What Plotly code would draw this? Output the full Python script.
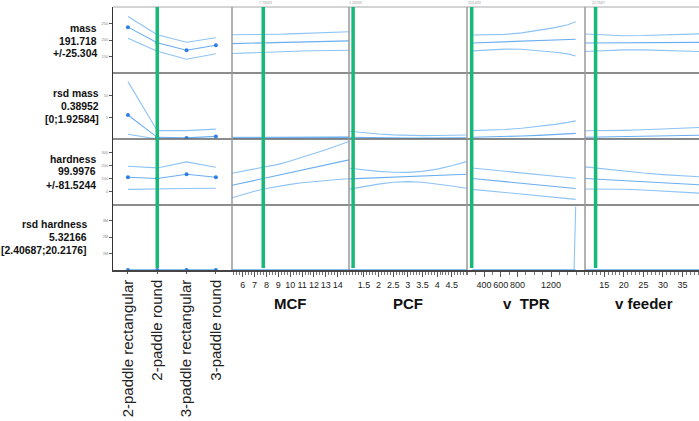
import plotly.graph_objects as go

# ---------------- data ----------------
CATEGORIES = ["2-paddle rectangular", "2-paddle round", "3-paddle rectangular", "3-paddle round"]
MASS_CAT = [239, 191.7, 169, 184]
MASS_CAT_UP = [271, 216, 193, 207]
MASS_CAT_LO = [205, 166, 141.5, 158.5]
RSDM_CAT = [5.56, 0.39, 0.25, 0.6]
RSDM_CAT_UP = [13.3, 1.93, 1.95, 2.3]
RSDM_CAT_LO = [1.1, 0.0, 0.0, 0.0]
HARD_CAT = [110, 100, 133, 110]
HARD_CAT_UP = [194, 181, 227, 186]
HARD_CAT_LO = [18, 18.5, 24, 26]
RSDH_CAT = [5.32, 5.32, 5.4, 5.3]
RSDH_CAT_UP = [20, 20.2, 21, 20]
RSDH_CAT_LO = [2.4, 2.4, 2.5, 2.4]

MCF_X = [5.1, 6, 7, 8, 9, 10, 11, 12, 13, 14, 14.95]
MASS_MCF = [189, 189.8, 190.7, 191.5, 192.3, 193.2, 194, 194.8, 195.6, 196.5, 197.3]
MASS_MCF_UP = [216, 216, 216.3, 216.8, 217.5, 218.5, 219.6, 220.8, 222.2, 223.6, 225]
MASS_MCF_LO = [159, 160.5, 162.2, 163.7, 165, 166, 166.8, 167.5, 168.1, 168.6, 169]
RSDM_MCF = [0.25, 0.25, 0.26, 0.27, 0.28, 0.29, 0.3, 0.31, 0.32, 0.33, 0.34]
RSDM_MCF_UP = [0.4, 0.4, 0.41, 0.42, 0.43, 0.44, 0.45, 0.46, 0.47, 0.48, 0.5]
RSDM_MCF_LO = [0, 0, 0, 0, 0, 0, 0, 0, 0, 0, 0]
HARD_MCF = [49, 66.5, 86, 106, 125, 145, 164, 184, 203, 223, 242]
HARD_MCF_UP = [140, 155, 170, 188, 208, 234, 260, 290, 320, 353, 382]
HARD_MCF_LO = [-46, -22, 3, 24, 42, 56, 68, 78, 86, 93, 99]
RSDH_MCF = [5, 5, 5.1, 5.2, 5.3, 5.4, 5.5, 5.6, 5.7, 5.8, 6]
RSDH_MCF_UP = [19, 19.5, 20, 20.2, 20.5, 21, 21.5, 22, 23, 24, 26]
RSDH_MCF_LO = [2.3, 2.3, 2.4, 2.4, 2.4, 2.5, 2.5, 2.5, 2.6, 2.6, 2.7]

PCF_X = [1, 1.5, 2, 2.5, 3, 3.5, 4, 4.5, 5]
RSDM_PCF = [0.39, 0.3, 0.25, 0.2, 0.2, 0.2, 0.22, 0.25, 0.3]
RSDM_PCF_UP = [1.8, 1.45, 1.15, 0.95, 0.82, 0.78, 0.8, 0.85, 0.92]
RSDM_PCF_LO = [0, 0, 0, 0, 0, 0, 0, 0, 0]
HARD_PCF = [98, 102, 106, 110, 113, 117, 122, 127, 133]
HARD_PCF_UP = [178, 165, 155, 148, 147, 155, 172, 198, 229]
HARD_PCF_LO = [20, 40, 58, 72, 77, 72, 60, 44, 26]
RSDH_PCF = [5.3, 5.2, 5.1, 5.0, 5.0, 5.1, 5.2, 5.4, 5.6]
RSDH_PCF_UP = [20, 19, 18, 18, 18, 19, 20, 22, 24]
RSDH_PCF_LO = [2.4, 2.4, 2.3, 2.3, 2.3, 2.3, 2.4, 2.5, 2.6]

TPR_X = [260, 450, 650, 850, 1050, 1250, 1400, 1475, 1495]
MASS_TPR = [191, 192.5, 194.2, 196, 197.8, 199.7, 201.2, 202.2, 202.5]
MASS_TPR_UP = [215, 215.2, 217, 221.5, 228.5, 237.5, 246, 252, 255]
MASS_TPR_LO = [167, 170, 172.5, 172, 168.5, 163, 158, 153, 151.5]
RSDM_TPR = [0.39, 0.45, 0.55, 0.7, 0.85, 1.0, 1.15, 1.25, 1.3]
RSDM_TPR_UP = [1.93, 2.0, 2.2, 2.5, 2.9, 3.4, 3.85, 4.1, 4.2]
RSDM_TPR_LO = [0, 0, 0, 0, 0, 0, 0, 0, 0]
HARD_TPR = [100, 88, 76, 64, 52, 40, 31, 26, 25]
HARD_TPR_UP = [180, 168, 156, 143, 131, 118, 109, 104, 102]
HARD_TPR_LO = [18, 6, -6, -18, -31, -43, -52, -57, -58]
RSDH_TPR = [5.3, 5.5, 6, 7, 9, 14, 30, 60, 80]
RSDH_TPR_UP = [20, 22, 26, 35, 60, 150, 800, 5000, 3850000]
RSDH_TPR_LO = [2.4, 2.4, 2.5, 2.6, 2.8, 3.0, 3.3, 3.5, 3.6]

FEED_X = [10.1, 15, 20, 25, 30, 35, 40.2]
MASS_FEED = [191, 191.3, 191.7, 192, 192.3, 192.7, 193]
MASS_FEED_UP = [218, 214.5, 213, 213.5, 215, 217, 219]
MASS_FEED_LO = [165, 168, 170, 170, 169, 167, 165]
RSDM_FEED = [0.39, 0.45, 0.52, 0.6, 0.7, 0.8, 0.9]
RSDM_FEED_UP = [1.9, 1.92, 2.0, 2.15, 2.3, 2.5, 2.7]
RSDM_FEED_LO = [0, 0, 0, 0, 0, 0, 0]
HARD_FEED = [100, 92, 84, 76, 67, 59, 51]
HARD_FEED_UP = [189, 172, 157, 142, 130, 120, 112]
HARD_FEED_LO = [21, 21, 19, 13, 5, -4, -12]
RSDH_FEED = [5.3, 5.4, 5.5, 5.6, 5.8, 6.0, 6.2]
RSDH_FEED_UP = [20, 20.5, 21, 22, 23, 24, 25]
RSDH_FEED_LO = [2.4, 2.4, 2.5, 2.5, 2.6, 2.6, 2.7]

# current factor settings (green lines) and their tiny readouts
SETTINGS = {"x": 1, "x2": 7.73, "x3": 1.13, "x4": 253, "x5": 12.8}
SETTING_TEXT = {"x2": "7.73333", "x3": "1.13333", "x4": "253.333", "x5": "12.7667"}

ROW_LABELS = [
    ("mass", "191.718", "+/-25.304"),
    ("rsd mass", "0.38952", "[0;1.92584]"),
    ("hardness", "99.9976", "+/-81.5244"),
    ("rsd hardness", "5.32166", "[2.40687;20.2176]"),
]
AXIS_TITLES = ["MCF", "PCF", "v  TPR", "v feeder"]
MCF_TICKS = [6, 7, 8, 9, 10, 11, 12, 13, 14]
PCF_TICKS = [1.5, 2, 2.5, 3, 3.5, 4, 4.5]
TPR_TICKS = [400, 600, 800, 1200]
FEED_TICKS = [15, 20, 25, 30, 35]
Y_TICKS = [[150, 200, 250], [5, 10], [0, 100, 200, 300], [1000000, 2000000, 3000000]]

# ---------------- geometry (pixels) ----------------
W, H = 699, 421
L, T, B = 113, 7, 270
PW, PH = W - L, B - T
COLS = [113, 232, 349, 467, 585, 699]
ROWS = [7, 73, 139, 205, 270]


def px(x):
    return (x - L) / PW


def py(y):
    return (B - y) / PH


LINE = "#8cc3f5"
CENTER = "#6aaef0"
MARK = "#2f7fe3"
GREEN = "#17b978"
FONT = "Liberation Sans, Arial, sans-serif"

fig = go.Figure()


def add_set(xa, ya, xs, c, up, lo, markers=False):
    for vals in (up, lo):
        fig.add_trace(go.Scatter(x=xs, y=vals, xaxis=xa, yaxis=ya, mode="lines",
                                 line=dict(color=LINE, width=1.1), hoverinfo="skip", showlegend=False))
    fig.add_trace(go.Scatter(x=xs, y=c, xaxis=xa, yaxis=ya,
                             mode="lines+markers" if markers else "lines",
                             line=dict(color=CENTER, width=1.1),
                             marker=dict(color=MARK, size=4), hoverinfo="skip", showlegend=False))


add_set("x", "y", CATEGORIES, MASS_CAT, MASS_CAT_UP, MASS_CAT_LO, True)
add_set("x", "y2", CATEGORIES, RSDM_CAT, RSDM_CAT_UP, RSDM_CAT_LO, True)
add_set("x", "y3", CATEGORIES, HARD_CAT, HARD_CAT_UP, HARD_CAT_LO, True)
add_set("x", "y4", CATEGORIES, RSDH_CAT, RSDH_CAT_UP, RSDH_CAT_LO, True)
add_set("x2", "y", MCF_X, MASS_MCF, MASS_MCF_UP, MASS_MCF_LO)
add_set("x2", "y2", MCF_X, RSDM_MCF, RSDM_MCF_UP, RSDM_MCF_LO)
add_set("x2", "y3", MCF_X, HARD_MCF, HARD_MCF_UP, HARD_MCF_LO)
add_set("x2", "y4", MCF_X, RSDH_MCF, RSDH_MCF_UP, RSDH_MCF_LO)
add_set("x3", "y2", PCF_X, RSDM_PCF, RSDM_PCF_UP, RSDM_PCF_LO)
add_set("x3", "y3", PCF_X, HARD_PCF, HARD_PCF_UP, HARD_PCF_LO)
add_set("x3", "y4", PCF_X, RSDH_PCF, RSDH_PCF_UP, RSDH_PCF_LO)
add_set("x4", "y", TPR_X, MASS_TPR, MASS_TPR_UP, MASS_TPR_LO)
add_set("x4", "y2", TPR_X, RSDM_TPR, RSDM_TPR_UP, RSDM_TPR_LO)
add_set("x4", "y3", TPR_X, HARD_TPR, HARD_TPR_UP, HARD_TPR_LO)
add_set("x4", "y4", TPR_X, RSDH_TPR, RSDH_TPR_UP, RSDH_TPR_LO)
add_set("x5", "y", FEED_X, MASS_FEED, MASS_FEED_UP, MASS_FEED_LO)
add_set("x5", "y2", FEED_X, RSDM_FEED, RSDM_FEED_UP, RSDM_FEED_LO)
add_set("x5", "y3", FEED_X, HARD_FEED, HARD_FEED_UP, HARD_FEED_LO)
add_set("x5", "y4", FEED_X, RSDH_FEED, RSDH_FEED_UP, RSDH_FEED_LO)

tickfont = dict(family=FONT, size=9, color="#222")
common_x = dict(anchor="y4", showgrid=False, zeroline=False, showline=True, linecolor="#444",
                linewidth=1.5, ticks="outside", ticklen=5, tickcolor="#555", tickwidth=1,
                tickfont=tickfont, tickangle=0, fixedrange=True)


def dom(i):
    return [px(COLS[i]), px(COLS[i + 1])]


fig.update_layout(
    xaxis=dict(common_x, domain=dom(0), type="category", categoryorder="array",
               categoryarray=CATEGORIES, range=[-0.51, 3.55], tickangle=-90,
               tickfont=dict(family=FONT, size=15, color="#222"), ticklen=2),
    xaxis2=dict(common_x, domain=dom(1), range=[5.1, 14.95], tickmode="array", tickvals=MCF_TICKS,
                minor=dict(tick0=0, dtick=0.25, ticks="outside", ticklen=3, tickcolor="#777")),
    xaxis3=dict(common_x, domain=dom(2), range=[0.99, 5.02], tickmode="array", tickvals=PCF_TICKS,
                minor=dict(tick0=0, dtick=0.1, ticks="outside", ticklen=3, tickcolor="#777")),
    xaxis4=dict(common_x, domain=dom(3), range=[197, 1606], tickmode="array", tickvals=TPR_TICKS,
                minor=dict(tick0=0, dtick=100, ticks="outside", ticklen=3, tickcolor="#777")),
    xaxis5=dict(common_x, domain=dom(4), range=[10.1, 39.2], tickmode="array", tickvals=FEED_TICKS,
                minor=dict(tick0=0, dtick=1, ticks="outside", ticklen=3, tickcolor="#777")),
)

y_ranges = [[100, 300], [0, 15.3], [-101, 401], [0, 3940000]]
for i in range(4):
    name = "yaxis" if i == 0 else f"yaxis{i + 1}"
    fig.layout[name] = dict(
        domain=[py(ROWS[i + 1]), py(ROWS[i])], anchor="x", range=y_ranges[i],
        showgrid=False, zeroline=False, showline=True, linecolor="#333", linewidth=1,
        ticks="outside", ticklen=3, tickcolor="#555", tickmode="array", tickvals=Y_TICKS[i],
        tickfont=dict(family=FONT, size=4, color="#888"), fixedrange=True)

shapes = []
shapes.append(dict(type="line", xref="paper", yref="paper", x0=0, x1=1, y0=1, y1=1,
                   line=dict(color="#aaa", width=1.2)))
for r in ROWS[1:4]:
    shapes.append(dict(type="line", xref="paper", yref="paper", x0=0, x1=1, y0=py(r), y1=py(r),
                       line=dict(color="#666", width=1.3)))
for c in COLS[1:5]:
    shapes.append(dict(type="line", xref="paper", yref="paper", x0=px(c), x1=px(c), y0=0, y1=1,
                       line=dict(color="#999", width=1.5)))
for ax, v in SETTINGS.items():
    shapes.append(dict(type="line", xref=ax, yref="paper", x0=v, x1=v, y0=py(268), y1=1,
                       line=dict(color=GREEN, width=3.5)))
fig.update_layout(shapes=shapes)

ann = []
row_right = [99, 100.7, 97.7, 89]
row_first = [28, 93.3, 159, 224.3]
for i, lines in enumerate(ROW_LABELS):
    for k, t in enumerate(lines):
        ann.append(dict(xref="paper", yref="paper", x=px(row_right[i]), y=py(row_first[i] + 13 * k),
                        xanchor="right", yanchor="middle", showarrow=False,
                        text=f"<b>{t}</b>", font=dict(family=FONT, size=10.4, color="#111")))
title_x = [290.5, 408, 526, 644]
for j, title in enumerate(AXIS_TITLES):
    ann.append(dict(xref="paper", x=px(title_x[j]), yref="paper", y=py(303),
                    xanchor="center", yanchor="middle", showarrow=False,
                    text=f"<b>{title}</b>", font=dict(family=FONT, size=15, color="#111")))
for ax, txt in SETTING_TEXT.items():
    ann.append(dict(xref=ax, x=SETTINGS[ax], yref="paper", y=py(2.5), xanchor="left",
                    yanchor="middle", showarrow=False, text=txt, xshift=-6,
                    font=dict(family=FONT, size=3.5, color="#999")))
fig.update_layout(annotations=ann)

fig.update_layout(width=W, height=H, margin=dict(l=L, r=0, t=T, b=H - B, pad=0),
                  paper_bgcolor="white", plot_bgcolor="white", showlegend=False)

fig.write_html("out.html", config={"displayModeBar": False},
               post_script="document.body.style.margin='0';document.body.style.padding='0';")
